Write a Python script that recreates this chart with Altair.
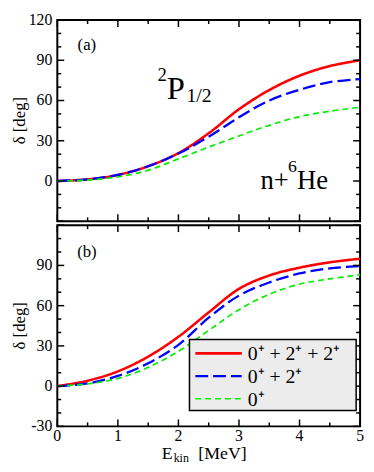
import altair as alt
import pandas as pd

# ---------------- data ----------------
E = [0.0, 0.5, 1.0, 1.5, 2.0, 2.5, 3.0, 3.5, 4.0, 4.5, 5.0]

series = ["0⁺ + 2⁺ + 2⁺", "0⁺ + 2⁺", "0⁺"]

# panel (a)
a_full = [0, 1.2, 4.5, 11.0, 20.8, 35.6, 53.5, 67.8, 78.5, 85.7, 90.0]
a_two = [0, 1.2, 4.5, 11.0, 20.5, 33.0, 47.5, 60.0, 68.0, 73.7, 76.0]
a_gs = [0, 0.7, 3.0, 8.0, 16.5, 25.3, 33.6, 41.5, 48.0, 52.0, 55.0]

# panel (b)
b_full = [0, 4.0, 11.0, 22.0, 36.8, 55.0, 72.5, 82.5, 88.3, 92.3, 95.0]
b_two = [0, 2.0, 7.6, 17.0, 30.8, 51.0, 67.5, 77.3, 84.0, 87.8, 89.5]
b_gs = [0, 1.7, 5.7, 14.0, 26.0, 41.5, 57.0, 68.5, 76.0, 80.0, 83.0]

x_major = [0, 1, 2, 3, 4, 5]
x_minor = [0.5, 1.5, 2.5, 3.5, 4.5]
y_major = [-30, 0, 30, 60, 90, 120]
y_minor = [-20, -10, 10, 20, 40, 50, 70, 80, 100, 110]
a_ylabels = [0, 30, 60, 90, 120]
b_ylabels = [-30, 0, 30, 60, 90]

colors = ["#ff0000", "#0000ff", "#00ee00"]
dashes = [[1, 0], [13, 5], [6, 4]]
widths = [2.6, 2.3, 1.7]

# ---------------- layout ----------------
W, H = 307, 204
FONT = "Liberation Serif"
xscale = alt.Scale(domain=[0, 5], nice=False, zero=False)
yscale = alt.Scale(domain=[-30, 120], nice=False, zero=False)
dummy = pd.DataFrame({"k": [0]})


def txt(s, x, y, size, align="left", baseline="alphabetic", angle=0):
    return alt.Chart(dummy).mark_text(text=s, font=FONT, fontSize=size,
                                      align=align, baseline=baseline,
                                      angle=angle, color="black").encode(
        x=alt.value(x), y=alt.value(y))


def panel(curves, ylabels, show_x, extras):
    layers = []
    for i, vals in enumerate(curves):
        df = pd.DataFrame({"E": E, "d": vals, "s": series[i]})
        layers.append(
            alt.Chart(df).mark_line(color=colors[i], strokeDash=dashes[i],
                                    strokeWidth=widths[i],
                                    interpolate="catmull-rom", clip=True)
            .encode(x=alt.X("E:Q", scale=xscale, axis=None),
                    y=alt.Y("d:Q", scale=yscale, axis=None))
        )
    # inward ticks
    for vals, ln in ((y_major, 7), (y_minor, 4)):
        tdf = pd.DataFrame({"t": vals})
        layers.append(alt.Chart(tdf).mark_rule(color="black", strokeWidth=1.5)
                      .encode(y=alt.Y("t:Q", scale=yscale, axis=None),
                              x=alt.value(0), x2=alt.value(ln)))
        layers.append(alt.Chart(tdf).mark_rule(color="black", strokeWidth=1.5)
                      .encode(y=alt.Y("t:Q", scale=yscale, axis=None),
                              x=alt.value(W - ln), x2=alt.value(W)))
    for vals, ln in ((x_major, 7), (x_minor, 4)):
        tdf = pd.DataFrame({"t": vals})
        layers.append(alt.Chart(tdf).mark_rule(color="black", strokeWidth=1.5)
                      .encode(x=alt.X("t:Q", scale=xscale, axis=None),
                              y=alt.value(H), y2=alt.value(H - ln)))
        layers.append(alt.Chart(tdf).mark_rule(color="black", strokeWidth=1.5)
                      .encode(x=alt.X("t:Q", scale=xscale, axis=None),
                              y=alt.value(0), y2=alt.value(ln)))
    # tick labels
    ldf = pd.DataFrame({"v": ylabels, "lab": [str(v) for v in ylabels]})
    layers.append(alt.Chart(ldf).mark_text(font=FONT, fontSize=16,
                                           align="right", baseline="middle",
                                           color="black")
                  .encode(y=alt.Y("v:Q", scale=yscale, axis=None),
                          text="lab:N", x=alt.value(-5)))
    if show_x:
        xdf = pd.DataFrame({"v": x_major, "lab": [str(v) for v in x_major]})
        layers.append(alt.Chart(xdf).mark_text(font=FONT, fontSize=16,
                                               align="center", baseline="top",
                                               color="black")
                      .encode(x=alt.X("v:Q", scale=xscale, axis=None),
                              text="lab:N", y=alt.value(H + 2)))
    layers.append(txt("δ [deg]", -38, H / 2, 17, align="center",
                      baseline="middle", angle=270))
    layers.extend(extras)
    return alt.layer(*layers).properties(width=W, height=H)


top_extras = [
    txt("(a)", 30, 25, 17, align="center", baseline="middle"),
    txt("2", 111, 62, 19, align="right"),
    txt("P", 111, 80, 33),
    txt("1/2", 131, 83, 20),
    txt("n+", 206, 171, 27),
    txt("6", 234, 154, 18),
    txt("He", 243, 171, 27),
]

legend_layers = [
    alt.Chart(dummy).mark_rect(fill="#ececec", stroke="black", strokeWidth=1.5)
    .encode(x=alt.value(134), x2=alt.value(303), y=alt.value(116),
            y2=alt.value(188)),
]
for i, name in enumerate(series):
    ly = 130 + 23 * i
    legend_layers.append(
        alt.Chart(dummy).mark_rule(color=colors[i], strokeDash=dashes[i],
                                   strokeWidth=widths[i])
        .encode(x=alt.value(140), x2=alt.value(187), y=alt.value(ly)))
    legend_layers.append(txt(name, 193, ly + 7, 20))

bottom_extras = [txt("(b)", 30, 27, 17, align="center", baseline="middle")]
bottom_extras += legend_layers
bottom_extras += [
    txt("E", 117, H + 33, 18, align="right"),
    txt("kin", 118, H + 36, 12),
    txt("[MeV]", 143, H + 33, 18),
]

top = panel([a_full, a_two, a_gs], a_ylabels, False, top_extras)
bottom = panel([b_full, b_two, b_gs], b_ylabels, True, bottom_extras)

chart = (alt.vconcat(top, bottom, spacing=0)
         .properties(padding={"left": 2, "top": 0, "right": 1, "bottom": 0})
         .configure_view(stroke="black", strokeWidth=2))

chart.save("out.html", embed_options={"renderer": "svg", "actions": False})
